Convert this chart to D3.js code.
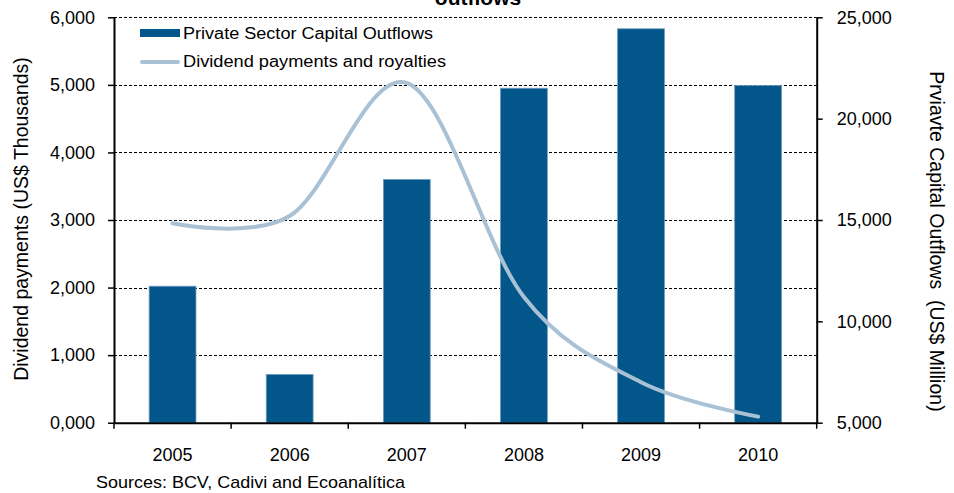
<!DOCTYPE html>
<html>
<head>
<meta charset="utf-8">
<script src="https://cdn.jsdelivr.net/npm/d3@7/dist/d3.min.js"></script>
<style>
  body { margin: 0; background: #fff; }
  svg { display: block; font-family: "Liberation Sans", Arial, sans-serif; }
</style>
</head>
<body>
<svg id="chart" width="954" height="493"></svg>
<script>
const years = ['2005', '2006', '2007', '2008', '2009', '2010']
// bars, read on the left axis
const capitalOutflows = [2020, 715, 3600, 4950, 5830, 4990]
// line, read on the right axis
const dividends = [14840, 15200, 21760, 11200, 7000, 5300]
const leftTicks = [0, 1000, 2000, 3000, 4000, 5000, 6000]
const rightTicks = [5000, 10000, 15000, 20000, 25000]

const margins = {left: 114, top: 17.3, right: 137.3, bottom: 70.3}
const width = 954
const height = 493

const svg = d3.select('#chart')

const x = d3
  .scaleBand()
  .domain(years)
  .range([margins.left, width - margins.right])

const yLeft = d3
  .scaleLinear()
  .domain([0, 6000])
  .range([height - margins.bottom, margins.top])

const yRight = d3
  .scaleLinear()
  .domain([5000, 25000])
  .range([height - margins.bottom, margins.top])

const fmtLeft = v => (v === 0 ? '0,000' : d3.format(',')(v))

// gridlines
svg
  .append('g')
  .selectAll('line')
  .data(leftTicks.filter(v => v > 0))
  .join('line')
  .attr('x1', margins.left)
  .attr('x2', width - margins.right)
  .attr('y1', d => Math.round(yLeft(d)) + 0.5)
  .attr('y2', d => Math.round(yLeft(d)) + 0.5)
  .attr('stroke', '#000')
  .attr('stroke-width', 1)
  .attr('stroke-dasharray', '3,2')

// bars
const barW = x.bandwidth() * 0.4
svg
  .append('g')
  .selectAll('rect')
  .data(capitalOutflows)
  .join('rect')
  .attr('x', (d, i) => x(years[i]) + (x.bandwidth() - barW) / 2)
  .attr('y', d => yLeft(d))
  .attr('width', barW)
  .attr('height', d => yLeft(0) - yLeft(d))
  .attr('fill', '#02568a')
  .attr('stroke', '#6f9cc0')
  .attr('stroke-width', 0.8)

// line (smoothed like the original)
const line = d3
  .line()
  .x((d, i) => x(years[i]) + x.bandwidth() / 2)
  .y(d => yRight(d))
  .curve(d3.curveCardinal.tension(0))

svg
  .append('path')
  .datum(dividends)
  .attr('d', line)
  .attr('fill', 'none')
  .attr('stroke', '#a9c1d4')
  .attr('stroke-width', 4)
  .attr('stroke-linecap', 'round')

// axes
const leftAxis = d3
  .axisLeft(yLeft)
  .tickValues(leftTicks)
  .tickFormat(fmtLeft)
  .tickSizeInner(6)
  .tickSizeOuter(0)
  .tickPadding(13)

const rightAxis = d3
  .axisRight(yRight)
  .tickValues(rightTicks)
  .tickFormat(d3.format(','))
  .tickSizeInner(6)
  .tickSizeOuter(0)
  .tickPadding(14)

const bottomAxis = d3
  .axisBottom(x)
  .tickValues([])
  .tickSizeOuter(0)

const styleAxis = g => {
  g.select('.domain').attr('stroke', '#000').attr('stroke-width', 2)
  g.selectAll('.tick line').attr('stroke', '#000').attr('stroke-width', 1.5)
  g.selectAll('.tick text')
    .attr('fill', '#000')
    .attr('font-size', 18)
    .attr('font-family', '"Liberation Sans", Arial, sans-serif')
}

svg
  .append('g')
  .attr('transform', `translate(${margins.left},0)`)
  .call(leftAxis)
  .call(styleAxis)

svg
  .append('g')
  .attr('transform', `translate(${width - margins.right},0)`)
  .call(rightAxis)
  .call(styleAxis)

const bottomG = svg
  .append('g')
  .attr('transform', `translate(0,${height - margins.bottom})`)
  .call(bottomAxis)
  .call(styleAxis)

// category boundary ticks and labels
const edges = years.map(y => x(y)).concat([x.range()[1]])
bottomG
  .selectAll('line.edge')
  .data(edges)
  .join('line')
  .attr('class', 'edge')
  .attr('x1', d => d)
  .attr('x2', d => d)
  .attr('y1', 0)
  .attr('y2', 6)
  .attr('stroke', '#000')
  .attr('stroke-width', 1.5)

bottomG
  .selectAll('text.year')
  .data(years)
  .join('text')
  .attr('class', 'year')
  .attr('x', d => x(d) + x.bandwidth() / 2)
  .attr('y', 38)
  .attr('text-anchor', 'middle')
  .attr('font-size', 18)
  .attr('fill', '#000')
  .text(d => d)

// axis titles
svg
  .append('text')
  .attr('transform', `translate(28,219) rotate(-90)`)
  .attr('text-anchor', 'middle')
  .attr('font-size', 19.5)
  .text('Dividend payments (US$ Thousands)')

svg
  .append('text')
  .attr('transform', `translate(930,241.5) rotate(90)`)
  .attr('text-anchor', 'middle')
  .attr('font-size', 19.5)
  .attr('xml:space', 'preserve')
  .style('white-space', 'pre')
  .text('Prviavte Capital Outflows  (US$ Million)')

// cut-off title
svg
  .append('text')
  .attr('x', 478)
  .attr('y', 5)
  .attr('text-anchor', 'middle')
  .attr('font-size', 21)
  .attr('font-weight', 'bold')
  .text('outflows')

// legend
const legendItems = ['Private Sector Capital Outflows', 'Dividend payments and royalties']
const legendLengths = [250, 263]
const legend = svg.append('g').attr('transform', 'translate(140,0)')
legend
  .append('rect')
  .attr('x', 0)
  .attr('y', 29)
  .attr('width', 40)
  .attr('height', 8)
  .attr('fill', '#02568a')
legend
  .append('line')
  .attr('x1', 2)
  .attr('x2', 38)
  .attr('y1', 62)
  .attr('y2', 62)
  .attr('stroke', '#a9c1d4')
  .attr('stroke-width', 4)
  .attr('stroke-linecap', 'round')
legend
  .selectAll('text')
  .data(legendItems)
  .join('text')
  .attr('x', 43)
  .attr('y', (d, i) => 39 + i * 28)
  .attr('font-size', 16)
  .attr('textLength', (d, i) => legendLengths[i])
  .attr('lengthAdjust', 'spacingAndGlyphs')
  .text(d => d)

// source note
svg
  .append('text')
  .attr('x', 96)
  .attr('y', 488)
  .attr('font-size', 17)
  .attr('textLength', 309)
  .attr('lengthAdjust', 'spacingAndGlyphs')
  .text('Sources: BCV, Cadivi and Ecoanalítica')
</script>
</body>
</html>
